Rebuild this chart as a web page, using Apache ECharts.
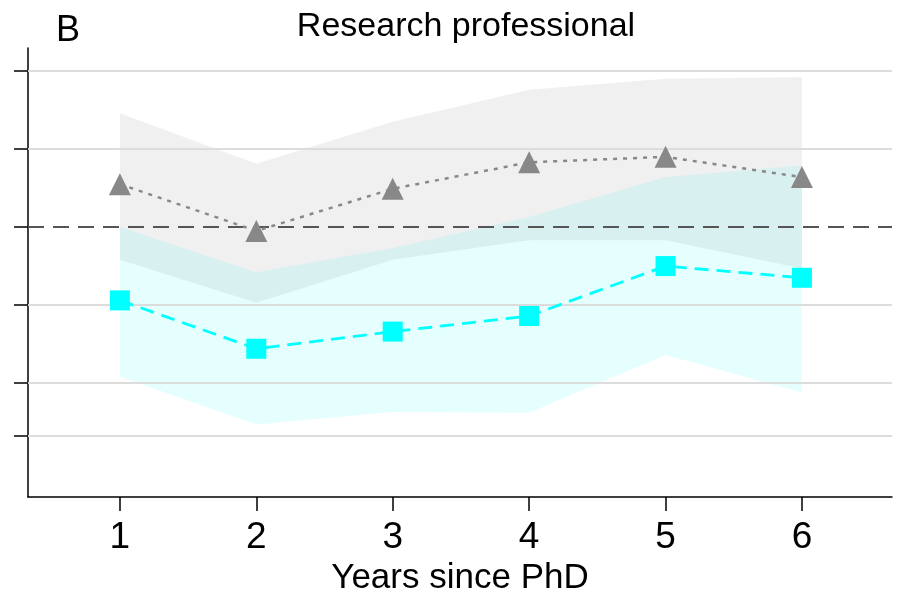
<!DOCTYPE html>
<html>
<head>
<meta charset="utf-8">
<script src="https://cdn.jsdelivr.net/npm/echarts@6/dist/echarts.min.js"></script>
<style>html,body{margin:0;padding:0;background:#fff}#c{width:897px;height:593px}</style>
</head>
<body>
<div id="c"></div>
<script>
// Data
var years = [1, 2, 3, 4, 5, 6];
var grayEst = [0.55, -0.05, 0.49, 0.83, 0.90, 0.64];
var grayLo = [-0.42, -0.97, -0.42, -0.17, -0.17, -0.53];
var grayHi = [1.46, 0.81, 1.35, 1.76, 1.90, 1.92];
var cyanEst = [-0.94, -1.56, -1.34, -1.14, -0.50, -0.65];
var cyanLo = [-1.92, -2.53, -2.37, -2.38, -1.64, -2.12];
var cyanHi = [0.00, -0.58, -0.27, 0.13, 0.64, 0.79];
var yTicks = [2, 1, 0, -1, -2, -2.68];
var refValue = 0;
var xTicks = [1, 2, 3, 4, 5, 6];

var FONT = '"Liberation Sans", Arial, sans-serif';

function bandSeries(lo, hi, color, z) {
  return {
    type: 'custom',
    z: z,
    silent: true,
    data: years.map(function (x, i) { return [x, lo[i], hi[i]]; }),
    encode: { x: 0, y: [1, 2] },
    renderItem: function (params, api) {
      if (params.dataIndex !== 0) return null;
      var pts = [];
      for (var i = 0; i < years.length; i++) pts.push(api.coord([years[i], hi[i]]));
      for (var j = years.length - 1; j >= 0; j--) pts.push(api.coord([years[j], lo[j]]));
      return { type: 'polygon', shape: { points: pts }, style: { fill: color } };
    }
  };
}

var chart = echarts.init(document.getElementById('c'), null, { renderer: 'canvas' });
chart.setOption({
  animation: false,
  backgroundColor: '#ffffff',
  title: [
    { text: 'Research professional', left: 461, top: 5, textAlign: 'center',
      textStyle: { fontFamily: FONT, fontSize: 34, fontWeight: 'normal', color: '#000' } },
    { text: 'B', left: 51, top: 8,
      textStyle: { fontFamily: FONT, fontSize: 36, fontWeight: 'normal', color: '#000' } }
  ],
  grid: { left: 28, right: 5, top: 48, bottom: 96, containLabel: false, outerBoundsMode: 'none' },
  xAxis: {
    type: 'value', min: 0.3265, max: 6.66,
    name: 'Years since PhD', nameLocation: 'middle', nameGap: 60,
    nameTextStyle: { fontFamily: FONT, fontSize: 35, color: '#000' },
    axisLine: { show: true, onZero: false, lineStyle: { color: '#000', width: 1.5 } },
    axisTick: { show: true, length: 14, customValues: xTicks, lineStyle: { color: '#000', width: 1.5 } },
    axisLabel: { customValues: xTicks, margin: 22, fontFamily: FONT, fontSize: 37, color: '#000' },
    splitLine: { show: false }
  },
  yAxis: {
    type: 'value', min: -3.46, max: 2.295,
    axisLine: { show: true, onZero: false, lineStyle: { color: '#000', width: 1.5 } },
    axisTick: { show: true, length: 14, customValues: yTicks, lineStyle: { color: '#000', width: 1.5 } },
    axisLabel: { show: false },
    splitLine: { show: false }
  },
  series: [
    {
      type: 'line', data: [], z: 1, silent: true,
      markLine: {
        silent: true, symbol: 'none', label: { show: false },
        lineStyle: { color: '#dcdcdc', width: 2, type: 'solid' },
        data: yTicks.filter(function (v) { return v !== refValue; }).map(function (v) { return { yAxis: v }; })
      }
    },
    {
      type: 'line', data: [], z: 2, silent: true,
      markLine: {
        silent: true, symbol: 'none', label: { show: false },
        lineStyle: { color: '#555555', width: 2.2, type: [16, 9] },
        data: [{ yAxis: refValue }]
      }
    },
    bandSeries(cyanLo, cyanHi, 'rgba(0,255,255,0.10)', 3),
    bandSeries(grayLo, grayHi, 'rgba(128,128,128,0.12)', 4),
    {
      type: 'line', z: 5,
      data: years.map(function (x, i) { return [x, grayEst[i]]; }),
      symbol: 'triangle', symbolSize: 22,
      itemStyle: { color: '#888888' },
      lineStyle: { color: '#888888', width: 2.5, type: [4, 6] }
    },
    {
      type: 'line', z: 6,
      data: years.map(function (x, i) { return [x, cyanEst[i]]; }),
      symbol: 'rect', symbolSize: 20,
      itemStyle: { color: '#00ffff' },
      lineStyle: { color: '#00ffff', width: 2.8, type: [14, 8] }
    }
  ]
});
</script>
</body>
</html>
